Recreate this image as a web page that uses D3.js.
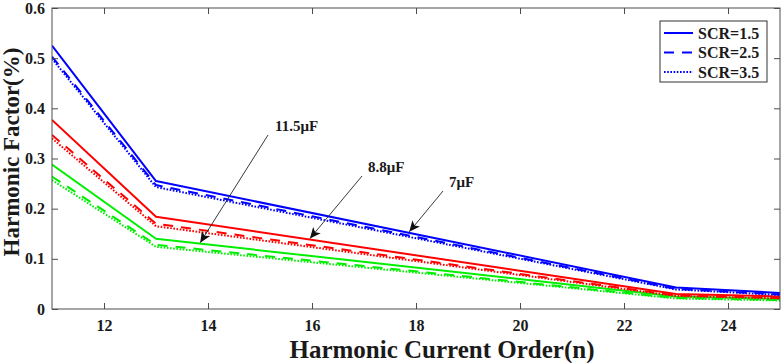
<!DOCTYPE html>
<html>
<head>
<meta charset="utf-8">
<script src="https://cdn.jsdelivr.net/npm/d3@7"></script>
<style>
  html, body { margin: 0; padding: 0; background: #fff; }
  svg { display: block; }
  text { font-family: "Liberation Serif", "Times New Roman", serif; font-weight: bold; fill: #1a1a1a; }
</style>
</head>
<body>
<svg id="chart" width="782" height="363"></svg>
<script>
// ---------------- data ----------------
const harmonicOrders = [11, 13, 23, 25];
// 7 uF (blue)
const c7_scr15 = [0.525, 0.255, 0.043, 0.032];
const c7_scr25 = [0.503, 0.247, 0.040, 0.029];
const c7_scr35 = [0.499, 0.243, 0.039, 0.028];
// 8.8 uF (red)
const c88_scr15 = [0.377, 0.184, 0.030, 0.025];
const c88_scr25 = [0.347, 0.170, 0.027, 0.022];
const c88_scr35 = [0.340, 0.165, 0.026, 0.021];
// 11.5 uF (green)
const c115_scr15 = [0.288, 0.140, 0.025, 0.020];
const c115_scr25 = [0.264, 0.128, 0.022, 0.018];
const c115_scr35 = [0.257, 0.124, 0.021, 0.017];

const xTicks = [12, 14, 16, 18, 20, 22, 24];
const yTicks = [0, 0.1, 0.2, 0.3, 0.4, 0.5, 0.6];
const legendLabels = ["SCR=1.5", "SCR=2.5", "SCR=3.5"];
const capLabels = ["7μF", "8.8μF", "11.5μF"];
const xTitle = "Harmonic Current Order(n)";
const yTitle = "Harmonic Factor(%)";

(function () {
// ---------------- layout ----------------
const svg = d3.select("#chart");
const L = 52, R = 780, T = 8, B = 309;
const x = d3.scaleLinear().domain([11, 25]).range([L, R]);
const y = d3.scaleLinear().domain([0, 0.6]).range([B, T]);

const colors = { c7: "#0000ff", c88: "#ff0000", c115: "#00ee00" };
const dashes = [null, "10,8", "1.6,1.6"];

const series = [
  { vals: c115_scr35, color: colors.c115, style: 2 },
  { vals: c115_scr25, color: colors.c115, style: 1 },
  { vals: c115_scr15, color: colors.c115, style: 0 },
  { vals: c88_scr35, color: colors.c88, style: 2 },
  { vals: c88_scr25, color: colors.c88, style: 1 },
  { vals: c88_scr15, color: colors.c88, style: 0 },
  { vals: c7_scr35, color: colors.c7, style: 2 },
  { vals: c7_scr25, color: colors.c7, style: 1 },
  { vals: c7_scr15, color: colors.c7, style: 0 },
];

const defs = svg.append("defs");
defs.append("clipPath").attr("id", "plotclip")
  .append("rect").attr("x", L).attr("y", T).attr("width", R - L).attr("height", B - T);

const line = d3.line().x((d, i) => x(harmonicOrders[i])).y(d => y(d));
const gLines = svg.append("g").attr("clip-path", "url(#plotclip)");
series.forEach(s => {
  gLines.append("path")
    .attr("d", line(s.vals))
    .attr("fill", "none")
    .attr("stroke", s.color)
    .attr("stroke-width", 2)
    .attr("stroke-dasharray", dashes[s.style])
    .attr("stroke-linejoin", "round");
});

// ---------------- axes (box, inward ticks) ----------------
const axisColor = "#4d4d4d";
const tickLen = 6;
svg.append("rect").attr("x", L).attr("y", T).attr("width", R - L).attr("height", B - T)
  .attr("fill", "none").attr("stroke", axisColor).attr("stroke-width", 1);

const axBottom = d3.axisBottom(x).tickValues(xTicks).tickSize(-tickLen).tickPadding(11).tickFormat(d3.format("d"));
const axTop = d3.axisTop(x).tickValues(xTicks).tickSize(-tickLen).tickFormat("");
const axLeft = d3.axisLeft(y).tickValues(yTicks).tickSize(-tickLen).tickPadding(7)
  .tickFormat(d => d === 0 ? "0" : d3.format(".1f")(d));
const axRight = d3.axisRight(y).tickValues(yTicks).tickSize(-tickLen).tickFormat("");

function styleAxis(g) {
  g.select(".domain").remove();
  g.selectAll(".tick line").attr("stroke", axisColor);
  g.selectAll(".tick text").attr("fill", "#1a1a1a")
    .style("font-family", '"Liberation Serif", "Times New Roman", serif')
    .style("font-weight", "bold").style("font-size", "16px");
}
svg.append("g").attr("transform", `translate(0,${B})`).call(axBottom).call(styleAxis);
svg.append("g").attr("transform", `translate(0,${T})`).call(axTop).call(styleAxis);
svg.append("g").attr("transform", `translate(${L},0)`).call(axLeft).call(styleAxis);
svg.append("g").attr("transform", `translate(${R},0)`).call(axRight).call(styleAxis);

// axis titles
svg.append("text").attr("x", 442).attr("y", 357.5).attr("text-anchor", "middle")
  .style("font-size", "25px").text(xTitle);
svg.append("text").attr("transform", `translate(19,152) rotate(-90)`).attr("text-anchor", "middle")
  .style("font-size", "23px").text(yTitle);

// ---------------- annotations ----------------
defs.append("marker").attr("id", "arrow").attr("viewBox", "0 0 10 10")
  .attr("refX", 10).attr("refY", 5).attr("markerWidth", 11).attr("markerHeight", 11)
  .attr("markerUnits", "userSpaceOnUse").attr("orient", "auto")
  .append("path").attr("d", "M0,0.5 L10,5 L0,9.5 L2.5,5 Z").attr("fill", "#111");

function interp(vals, xv) {
  const f = d3.scaleLinear().domain(harmonicOrders).range(vals);
  return f(xv);
}
const annotations = [
  { text: capLabels[2], vals: c115_scr15, at: 13.85, tail: [268, 135], tx: 275, ty: 131 },
  { text: capLabels[1], vals: c88_scr15, at: 15.96, tail: [362, 176], tx: 368, ty: 172 },
  { text: capLabels[0], vals: c7_scr15, at: 17.87, tail: [443, 191], tx: 449, ty: 187 },
];
annotations.forEach(a => {
  svg.append("line")
    .attr("x1", a.tail[0]).attr("y1", a.tail[1])
    .attr("x2", x(a.at)).attr("y2", y(interp(a.vals, a.at)) - 1)
    .attr("stroke", "#222").attr("stroke-width", 0.9)
    .attr("marker-end", "url(#arrow)");
  svg.append("text").attr("x", a.tx).attr("y", a.ty).style("font-size", "15px").text(a.text);
});

// ---------------- legend ----------------
const lg = svg.append("g");
lg.append("rect").attr("x", 660).attr("y", 21).attr("width", 107).attr("height", 61)
  .attr("fill", "#fff").attr("stroke", "#333").attr("stroke-width", 1);
legendLabels.forEach((lab, i) => {
  const yy = 33 + i * 19.5;
  lg.append("line").attr("x1", 664).attr("x2", 693).attr("y1", yy).attr("y2", yy)
    .attr("stroke", colors.c7).attr("stroke-width", 2)
    .attr("stroke-dasharray", dashes[i]);
  lg.append("text").attr("x", 698).attr("y", yy + 5.5).style("font-size", "16px").text(lab);
});
})();
</script>
</body>
</html>
